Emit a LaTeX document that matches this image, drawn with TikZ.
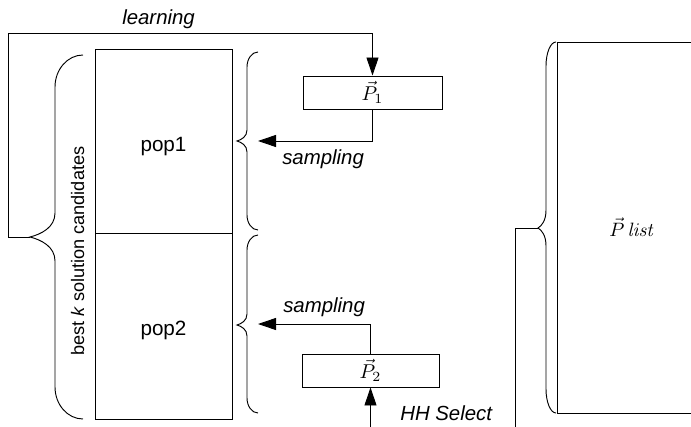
\documentclass[tikz,border=0pt]{standalone}
\usepackage{graphicx}
\usepackage[no-math]{fontspec}
\setmainfont{Liberation Sans}
\usetikzlibrary{arrows.meta}

% vertical curly brace opening to the right:
% #1 end x, #2 spine x, #3 tip x, #4 top y, #5 tip y, #6 bottom y,
% #7 length of the end curves, #8 length of the tip curves
\newcommand{\curlybrace}[8]{%
  \draw[brc] (#1,#4) .. controls ({#2+0.45*(#1-#2)},#4) and (#2,{#4+0.45*#7}) .. (#2,{#4+#7})
    -- (#2,{#5-#8}) .. controls (#2,{#5-0.4*#8}) and ({#3+0.45*(#2-#3)},{#5-0.12*#8}) .. (#3,#5)
    .. controls ({#3+0.45*(#2-#3)},{#5+0.12*#8}) and (#2,{#5+0.4*#8}) .. (#2,{#5+#8})
    -- (#2,{#6-#7}) .. controls (#2,{#6-0.45*#7}) and ({#2+0.45*(#1-#2)},#6) .. (#1,#6);}

% enlarged math for the vector labels
\newcommand{\bigvec}[2][1.5]{\scalebox{#1}{$#2$}}

\tikzset{
  ln/.style={draw=black, line width=0.7pt},
  brc/.style={ln},
  box/.style={ln, inner sep=0pt, fill=white},
  arr/.style={ln, -{Triangle[length=13.5pt,width=9pt]}},
  lbl/.style={font=\fontsize{15.3}{18}\selectfont\itshape, inner sep=0pt},
  poplbl/.style={font=\fontsize{15.5}{18}\selectfont, inner sep=0pt, anchor=base},
  vec/.style={inner sep=0pt}
}

\begin{document}
\begin{tikzpicture}[x=0.75pt, y=-0.75pt]
\useasboundingbox (0,0) rectangle (691,427);
\clip (0,0) rectangle (691,427);

% population blocks
\node[box, minimum width=137*0.75pt, minimum height=184*0.75pt] (pop1) at (163.5,141) {};
\node[box, minimum width=137*0.75pt, minimum height=186*0.75pt] (pop2) at (163.5,326) {};
\node[poplbl] (pop1lbl) at (163.5,152) {pop1};
\node[poplbl] (pop2lbl) at (163.5,335) {pop2};

% probability vectors
\node[box, vec, minimum width=139*0.75pt, minimum height=33*0.75pt] (P1) at (372.5,92.5) {\bigvec{\vec{P}_{1}}};
\node[box, vec, minimum width=137*0.75pt, minimum height=33*0.75pt] (P2) at (370.5,370.5) {\bigvec{\vec{P}_{2}}};
\node[box, vec, minimum width=150*0.75pt, minimum height=371*0.75pt] (plist) at (632,227.5) {\bigvec[1.45]{\vec{P}\,\mathit{list}}};

% braces
\curlybrace{83}{55}{30}{55}{237}{419}{32}{24}
\curlybrace{258}{247}{237}{52}{141}{230}{15}{11}
\curlybrace{258}{247}{237}{235}{325}{413}{15}{11}
\curlybrace{556}{546}{538}{42}{228}{413}{24}{18}

% connector end points
\coordinate (lbtip) at (30,237);
\coordinate (lcorner) at (8,33);
\coordinate (s1tip) at (258,141);
\coordinate (s2tip) at (258,324);
\coordinate (hhfoot) at (370.5,427);
\coordinate (pltip) at (538,228);
\coordinate (plfoot) at (515,427);

% connectors
\draw[arr] (lbtip) -| (lcorner) -| (P1.north);
\draw[arr] (P1.south) |- (s1tip);
\draw[arr] (P2.north) |- (s2tip);
\draw[arr] (hhfoot) -- (P2.south);
\draw[ln] (pltip) -| (plfoot);

% labels
\node[lbl, anchor=base west] (learnlbl) at (122,25) {learning};
\node[lbl, anchor=base west] (samp1lbl) at (282,165) {sampling};
\node[lbl, anchor=base west] (samp2lbl) at (283,312) {sampling};
\node[lbl, anchor=base west] (hhlbl) at (400,420) {HH Select};
\node[rotate=90, anchor=base, inner sep=0pt, font=\fontsize{13.6}{16}\selectfont] (bestlbl) at (84,251)
  {best {\itshape k} solution candidates};
\end{tikzpicture}
\end{document}
